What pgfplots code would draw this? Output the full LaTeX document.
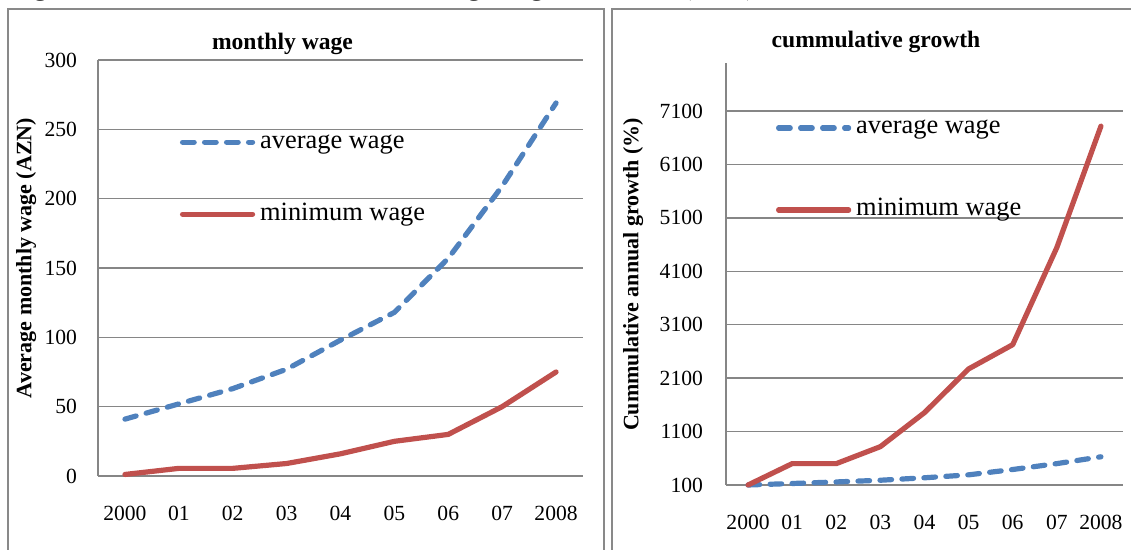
\documentclass[border=0pt]{standalone}
\usepackage{fontspec}
\setmainfont{Liberation Serif}
\usepackage{pgfplots}
\pgfplotsset{compat=1.18}
\definecolor{avgblue}{RGB}{79,129,189}
\definecolor{minred}{RGB}{192,80,77}
\definecolor{gridgray}{RGB}{134,134,134}
\definecolor{bordergray}{RGB}{137,137,137}
\pgfplotsset{
 excel/.style={
   scale only axis,
   axis x line*=bottom, axis y line*=left,
   axis line style={draw=gridgray, line width=0.7pt, -},
   ymajorgrids, grid style={draw=gridgray, line width=0.7pt},
   major tick length=0pt,
   xmin=-0.5, xmax=8.5, xtick={0,...,8},
   xticklabels={2000,01,02,03,04,05,06,07,2008},
   tick label style={font=\fontsize{10.8}{12}\selectfont},
   /pgf/number format/assume math mode=true,
   /pgf/number format/1000 sep={},
   xticklabel style={yshift=-11.5pt},
   ylabel style={font=\bfseries\fontsize{11}{13}\selectfont, anchor=center},
   legend style={draw=none, fill=none, inner sep=0pt, outer sep=0pt, column sep=2.5pt,
     font=\fontsize{13.2}{15}\selectfont, nodes={inner sep=0pt, text height=9pt, text depth=3pt}},
   legend image code/.code={\draw[#1, line cap=round] (0pt,0pt) -- (35pt,0pt);},
   legend cell align=left,
   clip=false,
 },
 avg/.style={avgblue, line width=2.6pt, line cap=round, dash pattern=on 5.8pt off 5.2pt},
 mn/.style={minred, line width=2.6pt, line cap=round, line join=round},
}
\begin{document}
\begin{tikzpicture}
\useasboundingbox (0,0) rectangle (565.5pt,275pt);
\draw[bordergray, line width=1.3pt] (4pt,-5pt) -- (4pt,270.5pt) -- (302pt,270.5pt) -- (302pt,-5pt);
\draw[bordergray, line width=1.3pt] (306pt,-5pt) -- (306pt,270.5pt) -- (570pt,270.5pt);
\node[overlay, anchor=base west, font=\bfseries\fontsize{13}{15}\selectfont] at (2pt,277pt) {Figure 4.7: Nominal minimum and average wages over time (AZN)};
\begin{axis}[excel, at={(49pt,37pt)}, anchor=south west, width=242.5pt, height=208pt,
  ymin=0, ymax=300, ytick={0,50,...,300},
  yticklabel style={xshift=-7pt},
  ylabel={Average monthly wage (AZN)},
  ylabel style={at={(axis description cs:-0.148,0.524)}},
  legend style={at={(axis description cs:0.169,0.716)}, anchor=west, row sep=24pt}]
\addplot[avg] coordinates {(0,41) (1,52) (2,63) (3,77) (4,98) (5,118) (6,157) (7,209) (8,269)};
\addlegendentry{average wage}
\addplot[mn] coordinates {(0,1.1) (1,5.5) (2,5.5) (3,9) (4,16) (5,25) (6,30) (7,50) (8,75)};
\addlegendentry{minimum wage}
\end{axis}
\begin{axis}[excel, at={(363pt,32.5pt)}, anchor=south west, width=198.5pt, height=211pt,
  ymin=100, ymax=8000, ytick={100,1100,...,7100},
  yticklabel style={xshift=-8pt},
  ylabel={Cummulative annual growth (\%)},
  ylabel style={at={(axis description cs:-0.234,0.499)}},
  legend style={at={(axis description cs:0.126,0.749)}, anchor=west, row sep=29pt}]
\addplot[avg] coordinates {(0,100) (1,128) (2,157) (3,189) (4,235) (5,290) (6,390) (7,500) (8,628)};
\addlegendentry{average wage}
\addplot[mn] coordinates {(0,100) (1,500) (2,500) (3,818) (4,1455) (5,2273) (6,2727) (7,4545) (8,6818)};
\addlegendentry{minimum wage}
\end{axis}
\node[font=\bfseries\fontsize{11.8}{14}\selectfont, anchor=base] at (141.25pt,250pt) {monthly wage};
\node[font=\bfseries\fontsize{11.8}{14}\selectfont, anchor=base] at (438pt,251pt) {cummulative growth};
\end{tikzpicture}
\end{document}
